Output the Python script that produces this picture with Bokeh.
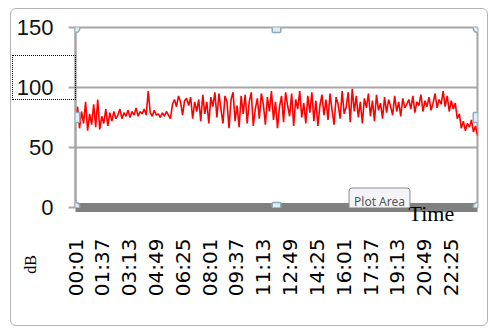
import math
import numpy as np
from bokeh.plotting import figure
from bokeh.models import Range1d, FixedTicker, Label, InlineStyleSheet
from bokeh.embed import file_html
from bokeh.resources import INLINE

# ---- data ----
db_values = [
    72, 84, 66, 80, 70, 88, 64, 78, 69, 86, 67,
    90, 65, 76, 70, 82, 68, 79, 72, 80, 74,
    77, 82, 74, 79, 76, 81, 75, 80, 77, 83,
    76, 80, 78, 82, 77, 97, 79, 76, 81, 77,
    78, 75, 79, 76, 80, 77, 74,
    86, 90, 84, 93, 88, 77, 89, 91,
    85, 92, 74, 88, 80, 90, 72,
    94, 78, 88, 70, 92, 84, 96, 75,
    95, 82, 70, 93, 88, 66, 90, 96, 72, 85, 67, 93,
    78, 94, 70, 88, 96, 68, 82, 91, 74, 95,
    86, 69, 92, 80, 97, 73, 88, 66, 84, 93,
    71, 96, 85, 76, 95, 68, 90, 82, 97, 75,
    87, 70, 93, 79, 96, 72, 89, 68, 85, 94, 77,
    90, 73, 95, 81, 69, 92, 86, 74, 97, 78,
    84, 96, 71, 99, 80, 93, 75, 88, 70, 91,
    83, 95, 76, 89, 72, 94, 81, 87, 74, 92,
    79, 90, 84, 77, 93, 80, 88, 76, 91, 83, 86,
    90, 82, 93, 79, 88, 85, 94, 80, 89, 84,
    92, 81, 87, 95, 83, 90, 86, 97, 84,
    93, 80, 89, 82, 87, 74, 78,
    66, 72, 64, 70, 67, 73, 63, 68, 60,
]
tick_minutes = [1, 97, 193, 289, 385, 481, 577, 673, 769, 865, 961, 1057, 1153, 1249, 1345]
tick_labels = ["00:01", "01:37", "03:13", "04:49", "06:25", "08:01", "09:37", "11:13",
               "12:49", "14:25", "16:01", "17:37", "19:13", "20:49", "22:25"]
y_ticks = [0, 50, 100, 150]
y_title = "dB"
x_title = "Time"

X0, X1 = 1, 1440
Y0, Y1 = 0, 150
minutes = np.linspace(X0, X1, len(db_values))

# frame geometry (pixels)
FL, FR, FT, FB = 75, 477, 27, 207
W, H = 496, 329

p = figure(width=W, height=H, output_backend="svg", toolbar_location=None,
           x_range=Range1d(X0, X1), y_range=Range1d(Y0, Y1),
           min_border_left=FL, min_border_right=W - FR,
           min_border_top=FT, min_border_bottom=H - FB)
p.background_fill_color = "white"
p.border_fill_color = "white"
p.outline_line_color = "#A6A6A6"
p.outline_line_width = 2

p.line(minutes, db_values, line_color="#FF0000", line_width=1.6)

# grid
p.xgrid.grid_line_color = None
p.ygrid.ticker = FixedTicker(ticks=y_ticks)
p.ygrid.grid_line_color = "#A6A6A6"
p.ygrid.grid_line_width = 2

# y axis
ya = p.yaxis[0]
ya.ticker = FixedTicker(ticks=y_ticks)
ya.axis_line_color = "#A6A6A6"
ya.axis_line_width = 2
ya.major_tick_line_color = "#A6A6A6"
ya.major_tick_line_width = 2
ya.major_tick_out = 7
ya.major_tick_in = 0
ya.minor_tick_line_color = None
ya.major_label_standoff = 15
ya.major_label_text_font = "Liberation Sans"
ya.major_label_text_font_size = "22px"
ya.major_label_text_color = "#111111"

# x axis
xa = p.xaxis[0]
xa.ticker = FixedTicker(ticks=tick_minutes)
xa.major_label_overrides = {m: l for m, l in zip(tick_minutes, tick_labels)}
xa.major_label_orientation = math.pi / 2
xa.axis_line_color = "#808080"
xa.axis_line_width = 9
xa.major_tick_line_color = None
xa.minor_tick_line_color = None
xa.major_tick_out = 0
xa.major_label_standoff = 31
xa.major_label_text_font = "DejaVu Sans"
xa.major_label_text_font_size = "20px"
xa.major_label_text_color = "#000000"

# axis titles (placed in side panels so they are not clipped by the frame)
p.add_layout(Label(x=30, y=264, x_units="canvas", y_units="canvas", text=y_title,
                   angle=math.pi / 2, text_font="Liberation Serif", text_font_size="16px",
                   text_align="center", text_baseline="middle", text_color="#000000"), "above")
p.add_layout(Label(x=408, y=213, x_units="canvas", y_units="canvas", text=x_title,
                   text_font="Liberation Serif", text_font_size="22px",
                   text_align="left", text_baseline="alphabetic", text_color="#000000"), "below")

# selection handles on the plot area
handles = [
    (FL, FT, 5), (FR, FT, 5), (FL, FB, 5), (FR, FB, 5),
    ((FL + FR) / 2, FT, 1), ((FL + FR) / 2, FB, 1), (FL, 117, 1), (FR, 117, 1),
]
for hx, hy, rad in handles:
    p.add_layout(Label(x=hx, y=hy, x_units="canvas", y_units="canvas", text=" ",
                       text_font_size="2px", anchor="center",
                       text_align="center", text_baseline="middle",
                       padding=4, border_radius=rad,
                       background_fill_color="#DDEEF6", background_fill_alpha=1,
                       border_line_color="#8FAABD", border_line_width=1.5))

# "Plot Area" tooltip
p.add_layout(Label(x=379, y=201, x_units="canvas", y_units="canvas", text="Plot Area",
                   anchor="center", text_align="center", text_baseline="middle",
                   text_font="Noto Sans", text_font_size="12px", text_color="#555555",
                   padding=5, border_radius=3,
                   background_fill_color="#F4F4F8", background_fill_alpha=1,
                   border_line_color="#8C8C8C", border_line_width=1))

# chart-area frame and dotted selection box (pure decoration)
p.stylesheets = [InlineStyleSheet(css="""
:host { position: relative; }
:host::before {
  content: ""; position: absolute; left: 10px; top: 8px; width: 476px; height: 316px;
  border: 1px solid #B4B4B4; border-radius: 6px; z-index: 10; pointer-events: none;
}
:host::after {
  content: ""; position: absolute; left: 12px; top: 55px; width: 62px; height: 43px;
  border: 1px dotted #000000; z-index: 10; pointer-events: none;
}
""")]

open("out.html", "w").write(file_html(p, INLINE))
